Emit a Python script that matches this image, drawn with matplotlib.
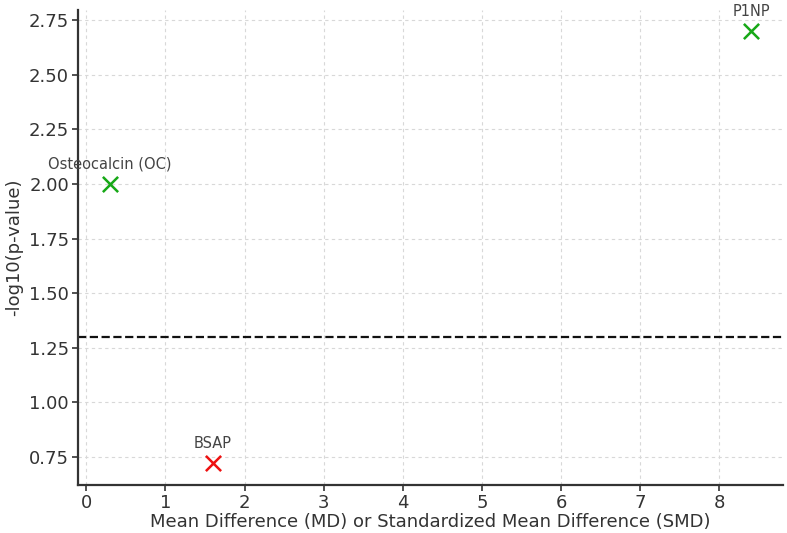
import numpy as np
import matplotlib
matplotlib.use("Agg")
import matplotlib.pyplot as plt

## data
markers_ = ["Osteocalcin (OC)", "BSAP", "P1NP"]
effect_  = [0.3, 1.6, 8.4]
logp_    = [2.0, 0.72, 2.7]
colors_  = ["#17a817", "#ee1111", "#17a817"]
threshold = 1.3

plt.rcParams["font.family"] = ["DejaVu Sans"]
plt.rcParams["text.color"] = "#333333"
plt.rcParams["axes.labelcolor"] = "#333333"
plt.rcParams["xtick.color"] = "#333333"
plt.rcParams["ytick.color"] = "#333333"

fig, ax = plt.subplots(figsize=(7.87, 5.33), dpi=100)

for i in range(len(markers_)):
    ax.scatter(effect_[i], logp_[i], marker="x", s=120, linewidths=1.8, color=colors_[i], zorder=3)
    ax.annotate(markers_[i], (effect_[i], logp_[i]), xytext=(0, 9), textcoords="offset points",
                ha="center", va="bottom", fontsize=10.5, color="#444444")

ax.axhline(threshold, color="#111111", linestyle="--", linewidth=1.6)

ax.set_xticks(np.arange(0, 9, 1))
ax.set_yticks(np.arange(0.75, 2.76, 0.25))
ax.tick_params(labelsize=13, width=1.2, length=4, pad=2.5)
ax.grid(True, linestyle=(0, (3, 3)), color="#d8d8d8", linewidth=0.8)
ax.set_axisbelow(True)

ax.spines["top"].set_visible(False)
ax.spines["right"].set_visible(False)
ax.spines["left"].set_linewidth(1.6)
ax.spines["bottom"].set_linewidth(1.6)
ax.spines["left"].set_color("#333333")
ax.spines["bottom"].set_color("#333333")

ax.set_xlabel("Mean Difference (MD) or Standardized Mean Difference (SMD)", fontsize=13, labelpad=1)
ax.set_ylabel("-log10(p-value)", fontsize=13, labelpad=4)

fig.subplots_adjust(left=0.099, right=0.995, bottom=0.09, top=0.982)
fig.savefig("out.png", dpi=100)
